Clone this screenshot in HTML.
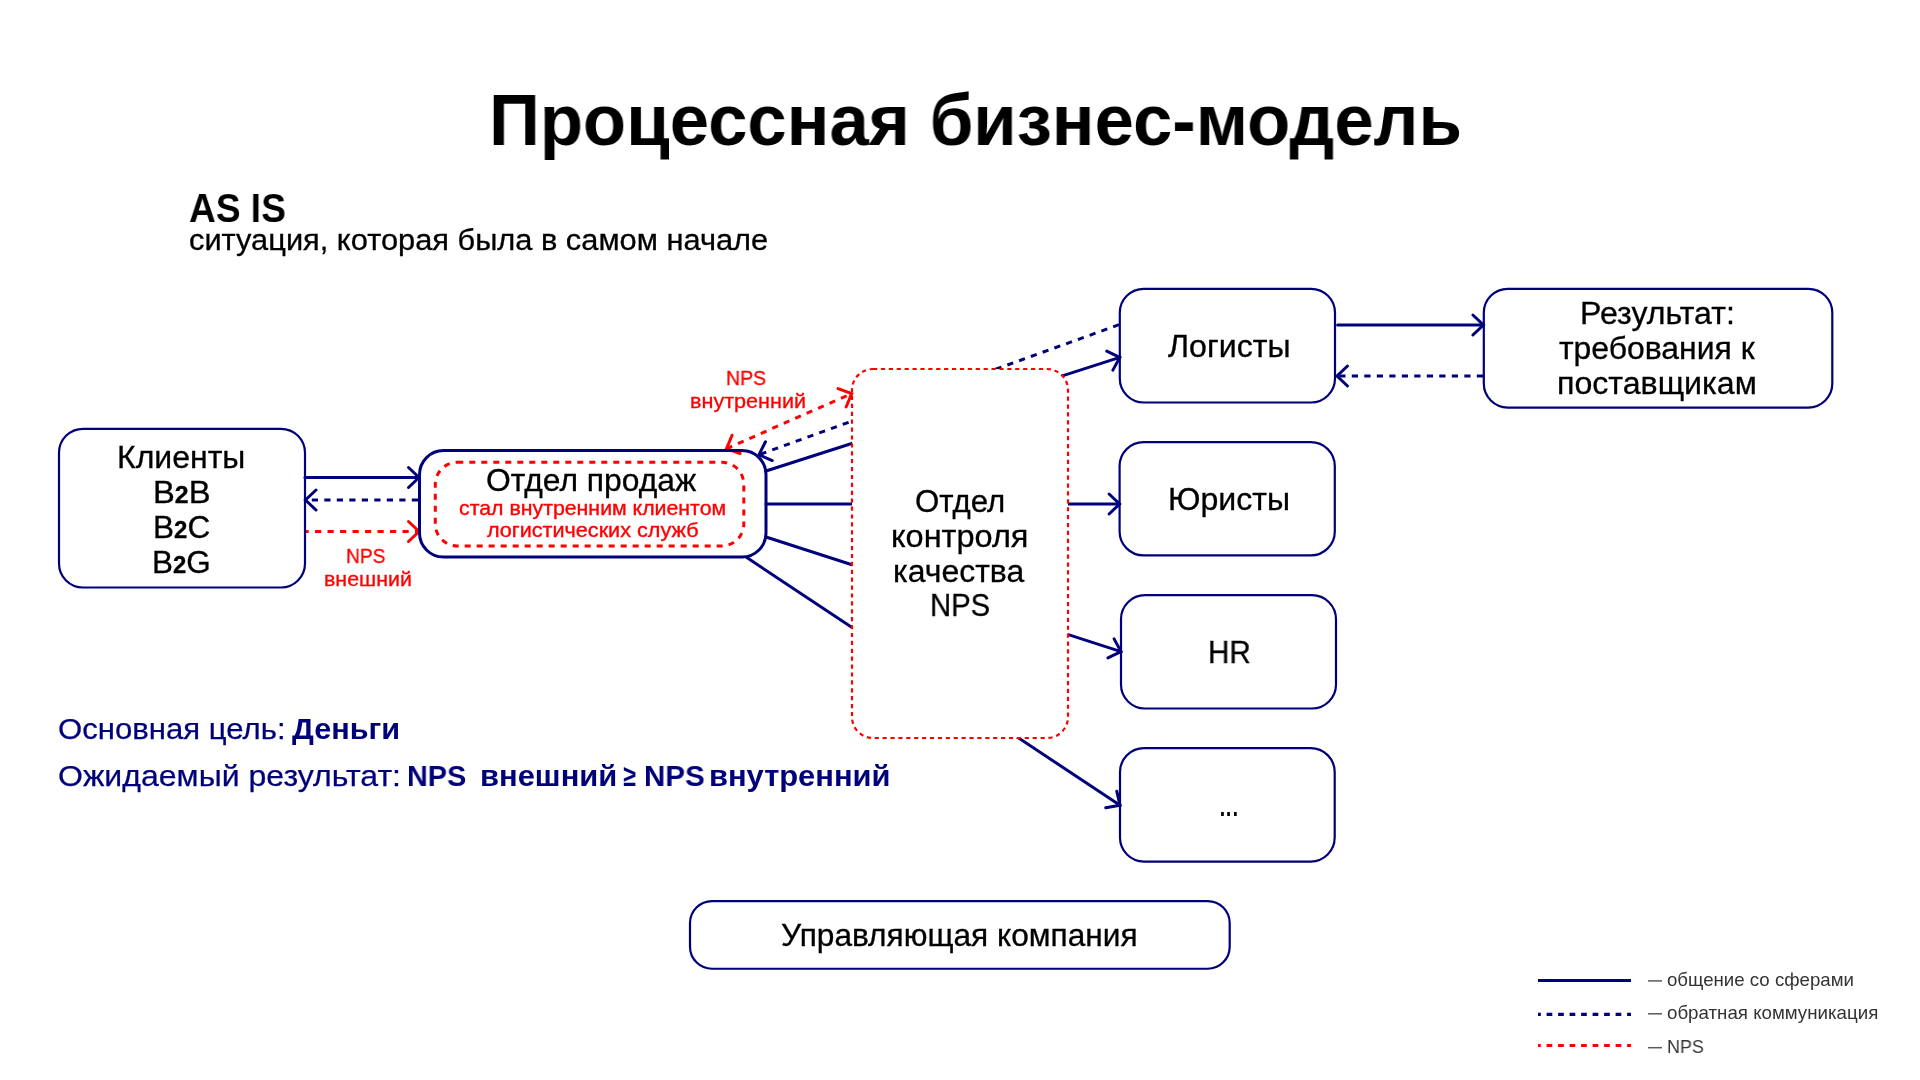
<!DOCTYPE html>
<html><head><meta charset="utf-8"><title>Процессная бизнес-модель</title>
<style>
html,body{margin:0;padding:0;background:#fff;}
body{width:1920px;height:1080px;position:relative;overflow:hidden;font-family:"Liberation Sans",sans-serif;}
svg{position:absolute;left:0;top:0;}
.t{position:absolute;white-space:nowrap;line-height:1;transform-origin:0 0;will-change:transform;}
</style></head><body>
<svg width="1920" height="1080" viewBox="0 0 1920 1080">
<line x1="305.00" y1="477.50" x2="418.00" y2="477.50" stroke="#00007a" stroke-width="3" stroke-linecap="round"/>
<path d="M408.50 487.50 L419.00 477.50 L408.50 467.50" fill="none" stroke="#00007a" stroke-width="3" stroke-linecap="round" stroke-linejoin="miter"/>
<line x1="418.00" y1="500.00" x2="307.00" y2="500.00" stroke="#00007a" stroke-width="3" stroke-linecap="butt" stroke-dasharray="6.2 6.3" stroke-dashoffset="0"/>
<path d="M316.00 490.00 L305.50 500.00 L316.00 510.00" fill="none" stroke="#00007a" stroke-width="3" stroke-linecap="round" stroke-linejoin="miter"/>
<line x1="305.50" y1="531.50" x2="417.00" y2="531.50" stroke="#ff0000" stroke-width="3" stroke-linecap="butt" stroke-dasharray="6.2 6.3" stroke-dashoffset="3"/>
<path d="M408.50 541.50 L419.00 531.50 L408.50 521.50" fill="none" stroke="#ff0000" stroke-width="3" stroke-linecap="round" stroke-linejoin="miter"/>
<line x1="766.00" y1="471.00" x2="1119.80" y2="357.40" stroke="#00007a" stroke-width="3" stroke-linecap="round"/>
<line x1="766.00" y1="504.00" x2="1119.00" y2="504.00" stroke="#00007a" stroke-width="3" stroke-linecap="round"/>
<line x1="766.00" y1="537.00" x2="1121.00" y2="651.60" stroke="#00007a" stroke-width="3" stroke-linecap="round"/>
<line x1="746.80" y1="557.60" x2="1120.00" y2="805.30" stroke="#00007a" stroke-width="3" stroke-linecap="round"/>
<line x1="1119.00" y1="324.70" x2="759.00" y2="454.70" stroke="#00007a" stroke-width="3" stroke-linecap="butt" stroke-dasharray="6.2 6.3" stroke-dashoffset="0"/>
<rect x="852.00" y="369.00" width="216.00" height="369.00" rx="21" ry="21" fill="#fff" stroke="#ff0000" stroke-width="2.2" stroke-dasharray="4.2 3.7"/>
<path d="M1112.86 370.13 L1119.80 357.40 L1106.75 351.09" fill="none" stroke="#00007a" stroke-width="3" stroke-linecap="round" stroke-linejoin="miter"/>
<path d="M1109.10 514.00 L1119.60 504.00 L1109.10 494.00" fill="none" stroke="#00007a" stroke-width="3" stroke-linecap="round" stroke-linejoin="miter"/>
<path d="M1107.94 657.89 L1121.00 651.60 L1114.08 638.86" fill="none" stroke="#00007a" stroke-width="3" stroke-linecap="round" stroke-linejoin="miter"/>
<path d="M1105.72 807.83 L1120.00 805.30 L1116.78 791.16" fill="none" stroke="#00007a" stroke-width="3" stroke-linecap="round" stroke-linejoin="miter"/>
<path d="M765.48 441.73 L759.00 454.70 L772.27 460.54" fill="none" stroke="#00007a" stroke-width="3" stroke-linecap="round" stroke-linejoin="miter"/>
<line x1="726.50" y1="448.60" x2="851.70" y2="393.60" stroke="#ff0000" stroke-width="3" stroke-linecap="butt" stroke-dasharray="6.2 6.3" stroke-dashoffset="0"/>
<path d="M732.09 435.22 L726.50 448.60 L740.14 453.53" fill="none" stroke="#ff0000" stroke-width="3" stroke-linecap="round" stroke-linejoin="miter"/>
<path d="M846.11 406.98 L851.70 393.60 L838.06 388.67" fill="none" stroke="#ff0000" stroke-width="3" stroke-linecap="round" stroke-linejoin="miter"/>
<line x1="1337.60" y1="325.00" x2="1482.50" y2="325.00" stroke="#00007a" stroke-width="3" stroke-linecap="round"/>
<path d="M1472.90 335.00 L1483.40 325.00 L1472.90 315.00" fill="none" stroke="#00007a" stroke-width="3" stroke-linecap="round" stroke-linejoin="miter"/>
<line x1="1483.00" y1="376.00" x2="1339.00" y2="376.00" stroke="#00007a" stroke-width="3" stroke-linecap="butt" stroke-dasharray="6.2 6.3" stroke-dashoffset="0"/>
<path d="M1347.50 366.00 L1337.00 376.00 L1347.50 386.00" fill="none" stroke="#00007a" stroke-width="3" stroke-linecap="round" stroke-linejoin="miter"/>
<rect x="59.00" y="428.80" width="246.00" height="158.70" rx="24" ry="24" fill="none" stroke="#00007a" stroke-width="2.2"/>
<rect x="419.50" y="450.60" width="346.50" height="106.40" rx="24" ry="24" fill="none" stroke="#00007a" stroke-width="3"/>
<rect x="435.30" y="462.30" width="308.50" height="83.70" rx="22" ry="22" fill="none" stroke="#ff0000" stroke-width="3" stroke-dasharray="6 6"/>
<rect x="1119.80" y="288.80" width="215.20" height="113.70" rx="24" ry="24" fill="none" stroke="#00007a" stroke-width="2.2"/>
<rect x="1119.60" y="442.10" width="215.20" height="113.30" rx="24" ry="24" fill="none" stroke="#00007a" stroke-width="2.2"/>
<rect x="1121.00" y="595.20" width="215.00" height="113.30" rx="24" ry="24" fill="none" stroke="#00007a" stroke-width="2.2"/>
<rect x="1120.00" y="748.10" width="214.70" height="113.50" rx="24" ry="24" fill="none" stroke="#00007a" stroke-width="2.2"/>
<rect x="1483.80" y="288.80" width="348.50" height="118.80" rx="24" ry="24" fill="none" stroke="#00007a" stroke-width="2.2"/>
<rect x="690.00" y="901.10" width="539.70" height="67.65" rx="22" ry="22" fill="none" stroke="#00007a" stroke-width="2.2"/>
<rect x="1221.1" y="812" width="2.7" height="4" fill="#000"/>
<rect x="1227.2" y="812" width="2.7" height="4" fill="#000"/>
<rect x="1234.0" y="812" width="2.7" height="4" fill="#000"/>
<line x1="1648.00" y1="980.90" x2="1662.00" y2="980.90" stroke="#5a5a5a" stroke-width="1.5" stroke-linecap="butt"/>
<line x1="1648.00" y1="1013.80" x2="1662.00" y2="1013.80" stroke="#5a5a5a" stroke-width="1.5" stroke-linecap="butt"/>
<line x1="1648.00" y1="1047.70" x2="1662.00" y2="1047.70" stroke="#5a5a5a" stroke-width="1.5" stroke-linecap="butt"/>
<line x1="1538.00" y1="980.50" x2="1631.00" y2="980.50" stroke="#00007a" stroke-width="3.2" stroke-linecap="butt"/>
<line x1="1538.00" y1="1014.40" x2="1631.00" y2="1014.40" stroke="#00007a" stroke-width="3.2" stroke-linecap="butt" stroke-dasharray="5.7 5.8" stroke-dashoffset="2.9"/>
<line x1="1538.00" y1="1045.50" x2="1631.00" y2="1045.50" stroke="#ff0000" stroke-width="3.2" stroke-linecap="butt" stroke-dasharray="5.7 5.8" stroke-dashoffset="2.9"/>
</svg>
<div class="t" style="left:489.14px;top:84.00px;font-size:72.68px;font-weight:700;color:#000000;transform:scaleX(0.9728);">Процессная бизнес-модель</div>
<div class="t" style="left:188.79px;top:188.00px;font-size:40.70px;font-weight:700;color:#000000;transform:scaleX(0.9106);">AS IS</div>
<div class="t" style="left:188.98px;top:225.00px;font-size:30.28px;font-weight:400;color:#000000;transform:scaleX(1.0176);-webkit-text-stroke:0.3px #000;">ситуация, которая была в самом начале</div>
<div class="t" style="left:117.22px;top:443.20px;font-size:30.81px;font-weight:400;color:#000000;transform:scaleX(1.0392);-webkit-text-stroke:0.3px #000;">Клиенты</div>
<div class="t" style="left:152.97px;top:478.30px;font-size:30.81px;font-weight:400;color:#000000;transform:scaleX(1.0627);-webkit-text-stroke:0.3px #000;">B<span style="font-size:0.76em;font-weight:700;">2</span>B</div>
<div class="t" style="left:152.95px;top:513.10px;font-size:30.81px;font-weight:400;color:#000000;transform:scaleX(1.0245);-webkit-text-stroke:0.3px #000;">B<span style="font-size:0.76em;font-weight:700;">2</span>C</div>
<div class="t" style="left:152.46px;top:548.00px;font-size:30.81px;font-weight:400;color:#000000;transform:scaleX(1.0204);-webkit-text-stroke:0.3px #000;">B<span style="font-size:0.76em;font-weight:700;">2</span>G</div>
<div class="t" style="left:486.46px;top:465.00px;font-size:30.52px;font-weight:400;color:#000000;transform:scaleX(1.0423);-webkit-text-stroke:0.3px #000;">Отдел продаж</div>
<div class="t" style="left:458.72px;top:498.70px;font-size:19.69px;font-weight:400;color:#ff0000;transform:scaleX(1.0824);-webkit-text-stroke:0.35px #ff0000;">стал внутренним клиентом</div>
<div class="t" style="left:487.00px;top:521.30px;font-size:19.69px;font-weight:400;color:#ff0000;transform:scaleX(1.0974);-webkit-text-stroke:0.35px #ff0000;">логистических служб</div>
<div class="t" style="left:345.74px;top:545.50px;font-size:20.06px;font-weight:400;color:#ff0000;transform:scaleX(0.9575);-webkit-text-stroke:0.3px #ff0000;">NPS</div>
<div class="t" style="left:323.91px;top:569.80px;font-size:19.69px;font-weight:400;color:#ff0000;transform:scaleX(1.0861);-webkit-text-stroke:0.3px #ff0000;">внешний</div>
<div class="t" style="left:725.74px;top:368.00px;font-size:20.35px;font-weight:400;color:#ff0000;transform:scaleX(0.9575);-webkit-text-stroke:0.3px #ff0000;">NPS</div>
<div class="t" style="left:689.82px;top:391.10px;font-size:20.06px;font-weight:400;color:#ff0000;transform:scaleX(1.0774);-webkit-text-stroke:0.3px #ff0000;">внутренний</div>
<div class="t" style="left:914.79px;top:486.70px;font-size:30.81px;font-weight:400;color:#000000;transform:scaleX(1.0128);-webkit-text-stroke:0.3px #000;">Отдел</div>
<div class="t" style="left:891.09px;top:521.70px;font-size:30.81px;font-weight:400;color:#000000;transform:scaleX(1.0548);-webkit-text-stroke:0.3px #000;">контроля</div>
<div class="t" style="left:893.22px;top:556.70px;font-size:30.81px;font-weight:400;color:#000000;transform:scaleX(1.0384);-webkit-text-stroke:0.3px #000;">качества</div>
<div class="t" style="left:930.10px;top:591.40px;font-size:30.81px;font-weight:400;color:#000000;transform:scaleX(0.9500);-webkit-text-stroke:0.3px #000;">NPS</div>
<div class="t" style="left:1167.90px;top:330.70px;font-size:30.52px;font-weight:400;color:#000000;transform:scaleX(1.0530);-webkit-text-stroke:0.3px #000;">Логисты</div>
<div class="t" style="left:1167.90px;top:484.00px;font-size:30.52px;font-weight:400;color:#000000;transform:scaleX(1.0518);-webkit-text-stroke:0.3px #000;">Юристы</div>
<div class="t" style="left:1208.46px;top:636.90px;font-size:30.52px;font-weight:400;color:#000000;transform:scaleX(0.9707);-webkit-text-stroke:0.3px #000;">HR</div>
<div class="t" style="left:1580.42px;top:298.75px;font-size:30.81px;font-weight:400;color:#000000;transform:scaleX(1.0417);-webkit-text-stroke:0.3px #000;">Результат:</div>
<div class="t" style="left:1559.40px;top:333.75px;font-size:30.81px;font-weight:400;color:#000000;transform:scaleX(1.0362);-webkit-text-stroke:0.3px #000;">требования к</div>
<div class="t" style="left:1557.31px;top:368.75px;font-size:30.81px;font-weight:400;color:#000000;transform:scaleX(1.0436);-webkit-text-stroke:0.3px #000;">поставщикам</div>
<div class="t" style="left:57.96px;top:713.75px;font-size:29.80px;font-weight:400;color:#00007a;transform:scaleX(1.0444);-webkit-text-stroke:0.25px #00007a;">Основная цель:</div>
<div class="t" style="left:291.90px;top:713.75px;font-size:29.80px;font-weight:700;color:#00007a;transform:scaleX(1.0282);">Деньги</div>
<div class="t" style="left:57.92px;top:760.60px;font-size:29.80px;font-weight:400;color:#00007a;transform:scaleX(1.0756);-webkit-text-stroke:0.25px #00007a;">Ожидаемый результат:</div>
<div class="t" style="left:407.07px;top:760.60px;font-size:29.80px;font-weight:700;color:#00007a;transform:scaleX(0.9655);">NPS</div>
<div class="t" style="left:479.93px;top:760.60px;font-size:29.80px;font-weight:700;color:#00007a;transform:scaleX(1.0375);">внешний</div>
<div class="t" style="left:623.22px;top:760.60px;font-size:29.80px;font-weight:700;color:#00007a;transform:scaleX(0.7800);">≥</div>
<div class="t" style="left:644.02px;top:760.60px;font-size:29.80px;font-weight:700;color:#00007a;transform:scaleX(0.9897);">NPS</div>
<div class="t" style="left:709.13px;top:760.60px;font-size:29.80px;font-weight:700;color:#00007a;transform:scaleX(1.0357);">внутренний</div>
<div class="t" style="left:780.66px;top:919.60px;font-size:30.52px;font-weight:400;color:#000000;transform:scaleX(1.0372);-webkit-text-stroke:0.3px #000;">Управляющая компания</div>
<div class="t" style="left:1666.98px;top:970.80px;font-size:18.31px;font-weight:400;color:#333333;transform:scaleX(1.0193);">общение со сферами</div>
<div class="t" style="left:1666.98px;top:1003.60px;font-size:18.31px;font-weight:400;color:#333333;transform:scaleX(1.0224);">обратная коммуникация</div>
<div class="t" style="left:1667.02px;top:1037.90px;font-size:18.31px;font-weight:400;color:#333333;transform:scaleX(0.9778);">NPS</div>
</body></html>
